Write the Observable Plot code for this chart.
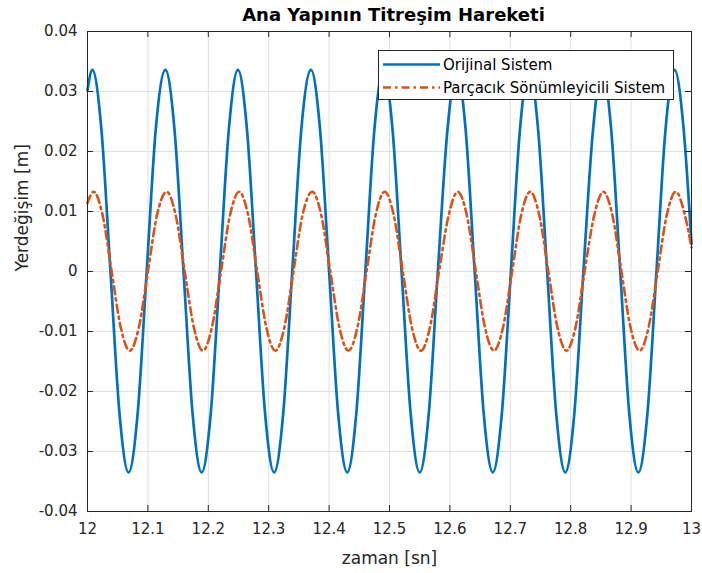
<!DOCTYPE html>
<html>
<head>
<meta charset="utf-8">
<script src="https://cdn.jsdelivr.net/npm/d3@7"></script>
<script src="https://cdn.jsdelivr.net/npm/@observablehq/plot@0.6"></script>
<style>
  body { margin: 0; background: white; }
  #wrap { position: relative; width: 702px; height: 573px; }
  #legend { position: absolute; left: 378px; top: 50px; }
</style>
</head>
<body>
<div id="wrap"></div>
<script>
const titleText = "Ana Yapının Titreşim Hareketi";
const xLabel = "zaman [sn]";
const yLabel = "Yerdeğişim [m]";
const seriesNames = ["Orijinal Sistem", "Parçacık Sönümleyicili Sistem"];
const seriesColors = ["#0072BD", "#D95319"];

const xTicks = [12, 12.1, 12.2, 12.3, 12.4, 12.5, 12.6, 12.7, 12.8, 12.9, 13];
const yTicks = [-0.04, -0.03, -0.02, -0.01, 0, 0.01, 0.02, 0.03, 0.04];

// Original system: points (start, peaks, mid-slopes, zero crossings, troughs, end)
const blueTime = [12.000,
  12.008, 12.023, 12.038, 12.053, 12.068, 12.083, 12.098, 12.113,
  12.129, 12.144, 12.159, 12.174, 12.189, 12.204, 12.219, 12.234,
  12.249, 12.264, 12.279, 12.294, 12.309, 12.324, 12.339, 12.354,
  12.370, 12.385, 12.400, 12.415, 12.430, 12.445, 12.460, 12.475,
  12.490, 12.505, 12.520, 12.535, 12.550, 12.565, 12.580, 12.596,
  12.611, 12.626, 12.641, 12.656, 12.671, 12.686, 12.701, 12.716,
  12.731, 12.746, 12.761, 12.776, 12.791, 12.806, 12.821, 12.837,
  12.852, 12.867, 12.882, 12.897, 12.912, 12.927, 12.942, 12.957,
  12.972, 12.987, 13.000];
const blueDisp = [0.0302,
  0.0336, 0.0237, 0, -0.0237, -0.0335, -0.0237, 0, 0.0237,
  0.0336, 0.0237, 0, -0.0237, -0.0335, -0.0237, 0, 0.0237,
  0.0336, 0.0237, 0, -0.0237, -0.0335, -0.0237, 0, 0.0237,
  0.0336, 0.0237, 0, -0.0237, -0.0335, -0.0237, 0, 0.0237,
  0.0336, 0.0237, 0, -0.0237, -0.0335, -0.0237, 0, 0.0237,
  0.0336, 0.0237, 0, -0.0237, -0.0335, -0.0237, 0, 0.0237,
  0.0336, 0.0237, 0, -0.0237, -0.0335, -0.0237, 0, 0.0237,
  0.0336, 0.0237, 0, -0.0237, -0.0335, -0.0237, 0, 0.0237,
  0.0336, 0.0237, 0.0046];

// Particle damper system
const orangeTime = [12.000,
  12.010, 12.025, 12.040, 12.055, 12.070, 12.085, 12.100, 12.115,
  12.131, 12.146, 12.161, 12.176, 12.191, 12.206, 12.221, 12.236,
  12.251, 12.266, 12.281, 12.296, 12.311, 12.326, 12.341, 12.356,
  12.372, 12.387, 12.402, 12.417, 12.432, 12.447, 12.462, 12.477,
  12.492, 12.507, 12.522, 12.537, 12.552, 12.567, 12.582, 12.598,
  12.613, 12.628, 12.643, 12.658, 12.673, 12.688, 12.703, 12.718,
  12.733, 12.748, 12.763, 12.778, 12.793, 12.808, 12.823, 12.839,
  12.854, 12.869, 12.884, 12.899, 12.914, 12.929, 12.944, 12.959,
  12.974, 12.989, 13.000];
const orangeDisp = [0.0114,
  0.0133, 0.0094, 0, -0.0093, -0.0132, -0.0093, 0, 0.0094,
  0.0133, 0.0094, 0, -0.0093, -0.0132, -0.0093, 0, 0.0094,
  0.0133, 0.0094, 0, -0.0093, -0.0132, -0.0093, 0, 0.0094,
  0.0133, 0.0094, 0, -0.0093, -0.0132, -0.0093, 0, 0.0094,
  0.0133, 0.0094, 0, -0.0093, -0.0132, -0.0093, 0, 0.0094,
  0.0133, 0.0094, 0, -0.0093, -0.0132, -0.0093, 0, 0.0094,
  0.0133, 0.0094, 0, -0.0093, -0.0132, -0.0093, 0, 0.0094,
  0.0133, 0.0094, 0, -0.0093, -0.0132, -0.0093, 0, 0.0094,
  0.0133, 0.0094, 0.0040];

const blue = blueTime.map((t, i) => ({t, v: blueDisp[i]}));
const orange = orangeTime.map((t, i) => ({t, v: orangeDisp[i]}));

const W = 702, H = 573, mL = 87, mR = 11, mT = 31, mB = 62;
const fw = W - mL - mR, fh = H - mT - mB;
const tk = 6;
const axisColor = "#262626";
const gridColor = "#dfdfdf";
const font = "DejaVu Sans";
const dashDot = "8,4,2.5,4";

const chart = Plot.plot({
  width: W, height: H,
  marginLeft: mL, marginRight: mR, marginTop: mT, marginBottom: mB,
  style: {fontFamily: font, fontSize: "15px", color: axisColor, background: "white"},
  x: {domain: [12, 13]},
  y: {domain: [-0.04, 0.04]},
  marks: [
    Plot.gridX(xTicks, {stroke: gridColor, strokeOpacity: 1}),
    Plot.gridY(yTicks, {stroke: gridColor, strokeOpacity: 1}),
    Plot.line(blue, {x: "t", y: "v", stroke: seriesColors[0], strokeWidth: 2.7, curve: "monotone-x"}),
    Plot.line(orange, {x: "t", y: "v", stroke: seriesColors[1], strokeWidth: 2.6, curve: "monotone-x", strokeDasharray: dashDot}),
    Plot.frame({stroke: axisColor}),
    Plot.tickX(xTicks, {x: d => d, insetTop: fh - tk, stroke: axisColor}),
    Plot.tickX(xTicks, {x: d => d, insetBottom: fh - tk, stroke: axisColor}),
    Plot.tickY(yTicks, {y: d => d, insetRight: fw - tk, stroke: axisColor}),
    Plot.tickY(yTicks, {y: d => d, insetLeft: fw - tk, stroke: axisColor}),
    Plot.axisX(xTicks, {tickSize: 0, tickPadding: 12, label: null, fontSize: 15,
      tickFormat: d => String(+d.toFixed(1))}),
    Plot.axisY(yTicks, {tickSize: 0, tickPadding: 10, label: null, fontSize: 15,
      tickFormat: d => (Math.abs(d) < 1e-9 ? "0" : d.toFixed(2))}),
    Plot.text([titleText], {frameAnchor: "top", dx: 4, dy: -15.8, lineAnchor: "middle",
      fontWeight: "bold", fontSize: 18, fill: "#000"}),
    Plot.text([xLabel], {frameAnchor: "bottom", dy: 47, lineAnchor: "middle",
      fontSize: 17, fill: axisColor}),
    Plot.text([yLabel], {frameAnchor: "left", dx: -65.4, lineAnchor: "middle", rotate: -90,
      fontSize: 17, fill: axisColor})
  ]
});

const wrap = document.getElementById("wrap");
wrap.appendChild(chart);

// Legend box
const lw = 295, lh = 49;
const leg = d3.create("svg")
  .attr("id", "legend")
  .attr("width", lw + 1).attr("height", lh + 1)
  .style("font-family", font).style("font-size", "15px");
leg.append("rect").attr("x", 0.5).attr("y", 0.5).attr("width", lw).attr("height", lh)
  .attr("fill", "white").attr("stroke", axisColor).attr("stroke-width", 1);
const rowY = [14.5, 37.5];
seriesNames.forEach((name, i) => {
  leg.append("line").attr("x1", 5).attr("x2", 62).attr("y1", rowY[i]).attr("y2", rowY[i])
    .attr("stroke", seriesColors[i]).attr("stroke-width", 2.6)
    .attr("stroke-dasharray", i === 1 ? dashDot : null);
  leg.append("text").attr("x", 65).attr("y", rowY[i]).attr("dy", "0.36em")
    .attr("fill", "#000").text(name);
});
wrap.appendChild(leg.node());
</script>
</body>
</html>
